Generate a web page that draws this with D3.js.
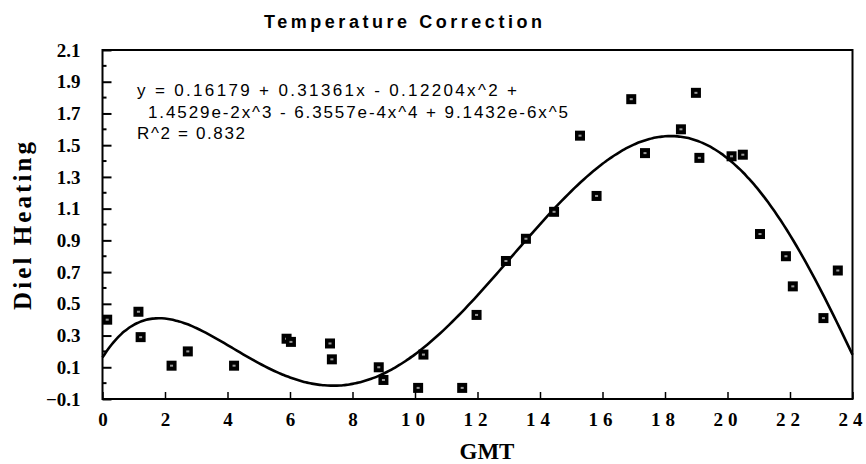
<!DOCTYPE html>
<html>
<head>
<meta charset="utf-8">
<script src="https://cdn.jsdelivr.net/npm/d3@7"></script>
<style>
  body { margin: 0; background: #fff; }
  svg { display: block; }
</style>
</head>
<body>
<svg id="chart"></svg>
<script>
// observed points (hour GMT, diel heating)
const gmtHours = [0.15, 1.15, 1.22, 2.21, 2.73, 4.21, 5.89, 6.03, 7.28, 7.34, 8.84, 8.99,
  10.1, 10.27, 11.51, 11.97, 12.91, 13.55, 14.45, 15.28, 15.81, 16.92, 17.36, 18.51,
  18.99, 19.10, 20.13, 20.49, 21.04, 21.87, 22.09, 23.07, 23.53];
const dielHeating = [0.40, 0.45, 0.29, 0.11, 0.20, 0.11, 0.28, 0.26, 0.25, 0.15, 0.10, 0.02,
  -0.03, 0.18, -0.03, 0.43, 0.77, 0.91, 1.08, 1.56, 1.18, 1.79, 1.45, 1.60,
  1.83, 1.42, 1.43, 1.44, 0.94, 0.80, 0.61, 0.41, 0.71];

// fitted polynomial as printed on the chart (c0 .. c5)
const fitCoefficients = [0.16179, 0.31361, -0.12204, 1.4529e-2, -6.3557e-4, 9.1432e-6];

const xTicks = [0, 2, 4, 6, 8, 10, 12, 14, 16, 18, 20, 22, 24];
const yTicks = [-0.1, 0.1, 0.3, 0.5, 0.7, 0.9, 1.1, 1.3, 1.5, 1.7, 1.9, 2.1];
const yMinorTicks = [0.0, 0.2, 0.4, 0.6, 0.8, 1.0, 1.2, 1.4, 1.6, 1.8, 2.0];

const titleText = "Temperature  Correction";
const equationLines = [
  "y = 0.16179 + 0.31361x - 0.12204x^2 +",
  "1.4529e-2x^3 - 6.3557e-4x^4 + 9.1432e-6x^5",
  "R^2 = 0.832"
];

const W = 866, H = 464;
const margin = { top: 50, left: 102.5 };
const width = 750, height = 349;

const svg = d3.select("#chart").attr("width", W).attr("height", H);
const g = svg.append("g").attr("transform", `translate(${margin.left},${margin.top})`);

const x = d3.scaleLinear().domain([0, 24]).range([0, width]);
const y = d3.scaleLinear().domain([-0.1, 2.1]).range([height, 0]);

const serif = "'Liberation Serif', 'Times New Roman', serif";
const sans = "'Liberation Sans', Arial, Helvetica, sans-serif";

// frame
g.append("rect")
  .attr("width", width).attr("height", height)
  .attr("fill", "none").attr("stroke", "#000").attr("stroke-width", 2);

// y axis, ticks pointing inward
const yAxis = g.append("g")
  .call(d3.axisLeft(y).tickValues(yTicks).tickFormat(d3.format(".1f")).tickSize(-9).tickPadding(22));
yAxis.select(".domain").remove();
yAxis.selectAll("line").attr("stroke", "#000").attr("stroke-width", 2);
yAxis.selectAll("text")
  .attr("fill", "#000")
  .style("font-family", serif).style("font-weight", "bold").style("font-size", "19px");

g.append("g")
  .selectAll("line")
  .data(yMinorTicks)
  .enter()
  .append("line")
  .attr("x1", 0).attr("x2", 4)
  .attr("y1", d => y(d)).attr("y2", d => y(d))
  .attr("stroke", "#000").attr("stroke-width", 2);

// x axis, ticks pointing up
const xAxis = g.append("g")
  .attr("transform", `translate(0,${height})`)
  .call(d3.axisBottom(x).tickValues(xTicks).tickSize(-7).tickPadding(14));
xAxis.select(".domain").remove();
xAxis.selectAll("line").attr("stroke", "#000").attr("stroke-width", 1.5);
xAxis.selectAll("text")
  .attr("fill", "#000")
  .style("font-family", serif).style("font-weight", "bold").style("font-size", "19px")
  .style("letter-spacing", d => d >= 10 ? "5px" : "0px");

// fitted curve
const poly = t => fitCoefficients.reduce((s, c, i) => s + c * Math.pow(t, i), 0);
const curveX = d3.range(0, 24.001, 0.1);
g.append("path")
  .datum(curveX)
  .attr("fill", "none")
  .attr("stroke", "#000")
  .attr("stroke-width", 2.6)
  .attr("d", d3.line().x(d => x(d)).y(d => y(poly(d))).curve(d3.curveMonotoneX));

// markers
const pts = gmtHours.map((h, i) => ({ h: h, v: dielHeating[i] }));
const marks = g.append("g").selectAll("g")
  .data(pts)
  .enter()
  .append("g")
  .attr("transform", d => `translate(${x(d.h)},${y(d.v)})`);
marks.append("rect")
  .attr("x", -5).attr("y", -5).attr("width", 10).attr("height", 10)
  .attr("fill", "#000");
marks.append("rect")
  .attr("x", -1.5).attr("y", -1).attr("width", 3).attr("height", 2)
  .attr("fill", "#fff").attr("opacity", 0.6);

// equation block
const eqX = [137, 148, 137];
const eqY = [96, 117.5, 139];
const eqLen = [380, 420, 108];
svg.append("g")
  .selectAll("text")
  .data(equationLines)
  .enter()
  .append("text")
  .attr("x", (d, i) => eqX[i])
  .attr("y", (d, i) => eqY[i])
  .attr("textLength", (d, i) => eqLen[i])
  .attr("lengthAdjust", "spacing")
  .style("font-family", sans).style("font-size", "17px")
  .attr("fill", "#000")
  .text(d => d);

// title
svg.append("text")
  .attr("x", 264).attr("y", 28)
  .attr("textLength", 278).attr("lengthAdjust", "spacing")
  .style("font-family", sans).style("font-weight", "bold").style("font-size", "18px")
  .text(titleText);

// axis titles
svg.append("text")
  .attr("x", 487).attr("y", 459)
  .attr("text-anchor", "middle")
  .style("font-family", serif).style("font-weight", "bold").style("font-size", "23px")
  .text("GMT");

svg.append("text")
  .attr("transform", "translate(31,226) rotate(-90)")
  .attr("x", -84).attr("y", 0)
  .attr("textLength", 168).attr("lengthAdjust", "spacing")
  .style("font-family", serif).style("font-weight", "bold").style("font-size", "25px")
  .text("Diel  Heating");
</script>
</body>
</html>
